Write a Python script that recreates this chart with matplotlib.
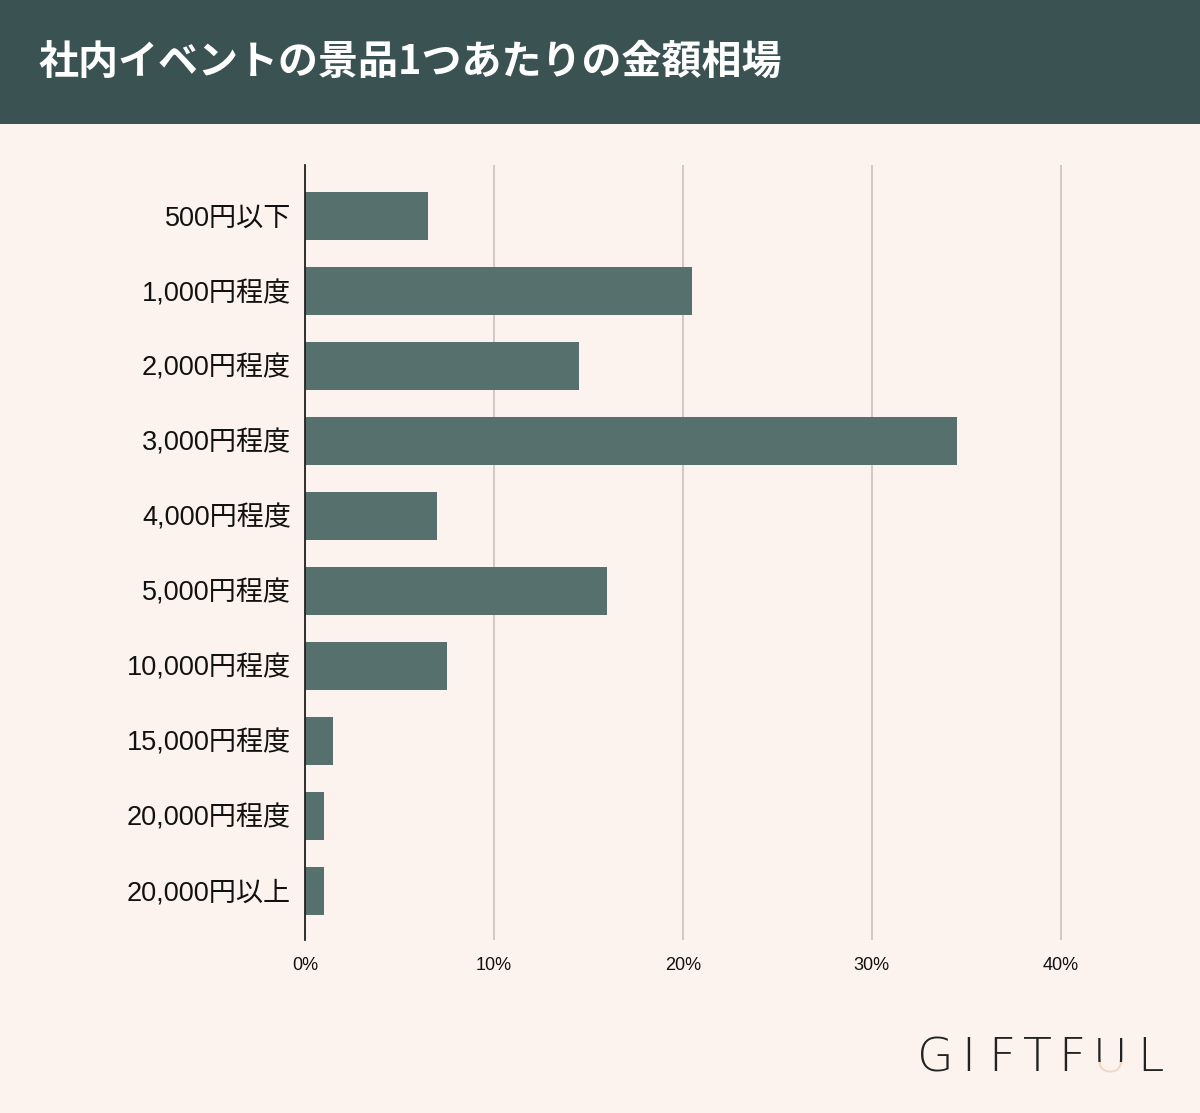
import matplotlib.pyplot as plt
from matplotlib.patches import Rectangle

categories = ['500円以下', '1,000円程度', '2,000円程度', '3,000円程度', '4,000円程度',
              '5,000円程度', '10,000円程度', '15,000円程度', '20,000円程度', '20,000円以上']
shares = [6.5, 20.5, 14.5, 34.5, 7.0, 16.0, 7.5, 1.5, 1.0, 1.0]
xticks = [0, 10, 20, 30, 40]
title = '社内イベントの景品1つあたりの金額相場'

bg = '#fcf3ee'
header = '#3a5352'
bar_color = '#55706d'
jp = ['Liberation Sans', 'Noto Sans CJK JP', 'DejaVu Sans']

fig = plt.figure(figsize=(12, 11.13), dpi=100, facecolor=bg)

# header band
fig.patches.append(Rectangle((0, 1 - 124 / 1113), 1, 124 / 1113, transform=fig.transFigure,
                             facecolor=header, edgecolor='none', zorder=0))
fig.text(38 / 1200, 1 - 62 / 1113, title, color='white', fontsize=28.8, fontweight='bold',
         family=['Noto Sans CJK JP', 'DejaVu Sans'], va='center', ha='left')

ax = fig.add_axes([305 / 1200, 1 - 940 / 1113, 850 / 1200, 775 / 1113])
ax.set_facecolor(bg)
ypos = range(len(categories))
ax.barh(ypos, shares, height=0.64, color=bar_color, zorder=3)
ax.set_ylim(len(categories) - 1 + 0.66, -0.68)
ax.set_xlim(0, 45)
ax.set_yticks(list(ypos))
ax.set_yticklabels(categories, family=jp, fontsize=19.5, color='#111111')
ax.set_xticks(xticks)
ax.set_xticklabels([f'{t}%' for t in xticks], family=jp, fontsize=13, color='#111111')
ax.tick_params(length=0)
ax.tick_params(axis='y', pad=10)
ax.tick_params(axis='x', pad=12)
ax.grid(axis='x', color='#c9c1be', linewidth=1.2, zorder=0)
for s in ['top', 'right', 'bottom']:
    ax.spines[s].set_visible(False)
ax.spines['left'].set_color('#222222')
ax.spines['left'].set_linewidth(1.3)
ax.spines['left'].set_zorder(4)

# logo
logo = 'GIFTFUL'
xs = [935, 968, 1002, 1037, 1072, 1110, 1150]
split = 1 - 1062 / 1113
for ch, x in zip(logo, xs):
    kw = dict(fontsize=34, family='DejaVu Sans', fontweight='light', ha='center', va='center')
    t = fig.text(x / 1200, 1 - 1058 / 1113, ch, color='#222222', **kw)
    if ch == 'U':
        t.set_clip_path(Rectangle((0, split), 1, 1 - split, transform=fig.transFigure))
        t2 = fig.text(x / 1200, 1 - 1058 / 1113, ch, color='#f2d6c0', **kw)
        t2.set_clip_path(Rectangle((0, 0), 1, split, transform=fig.transFigure))

fig.savefig('out.png', dpi=100, facecolor=bg)
